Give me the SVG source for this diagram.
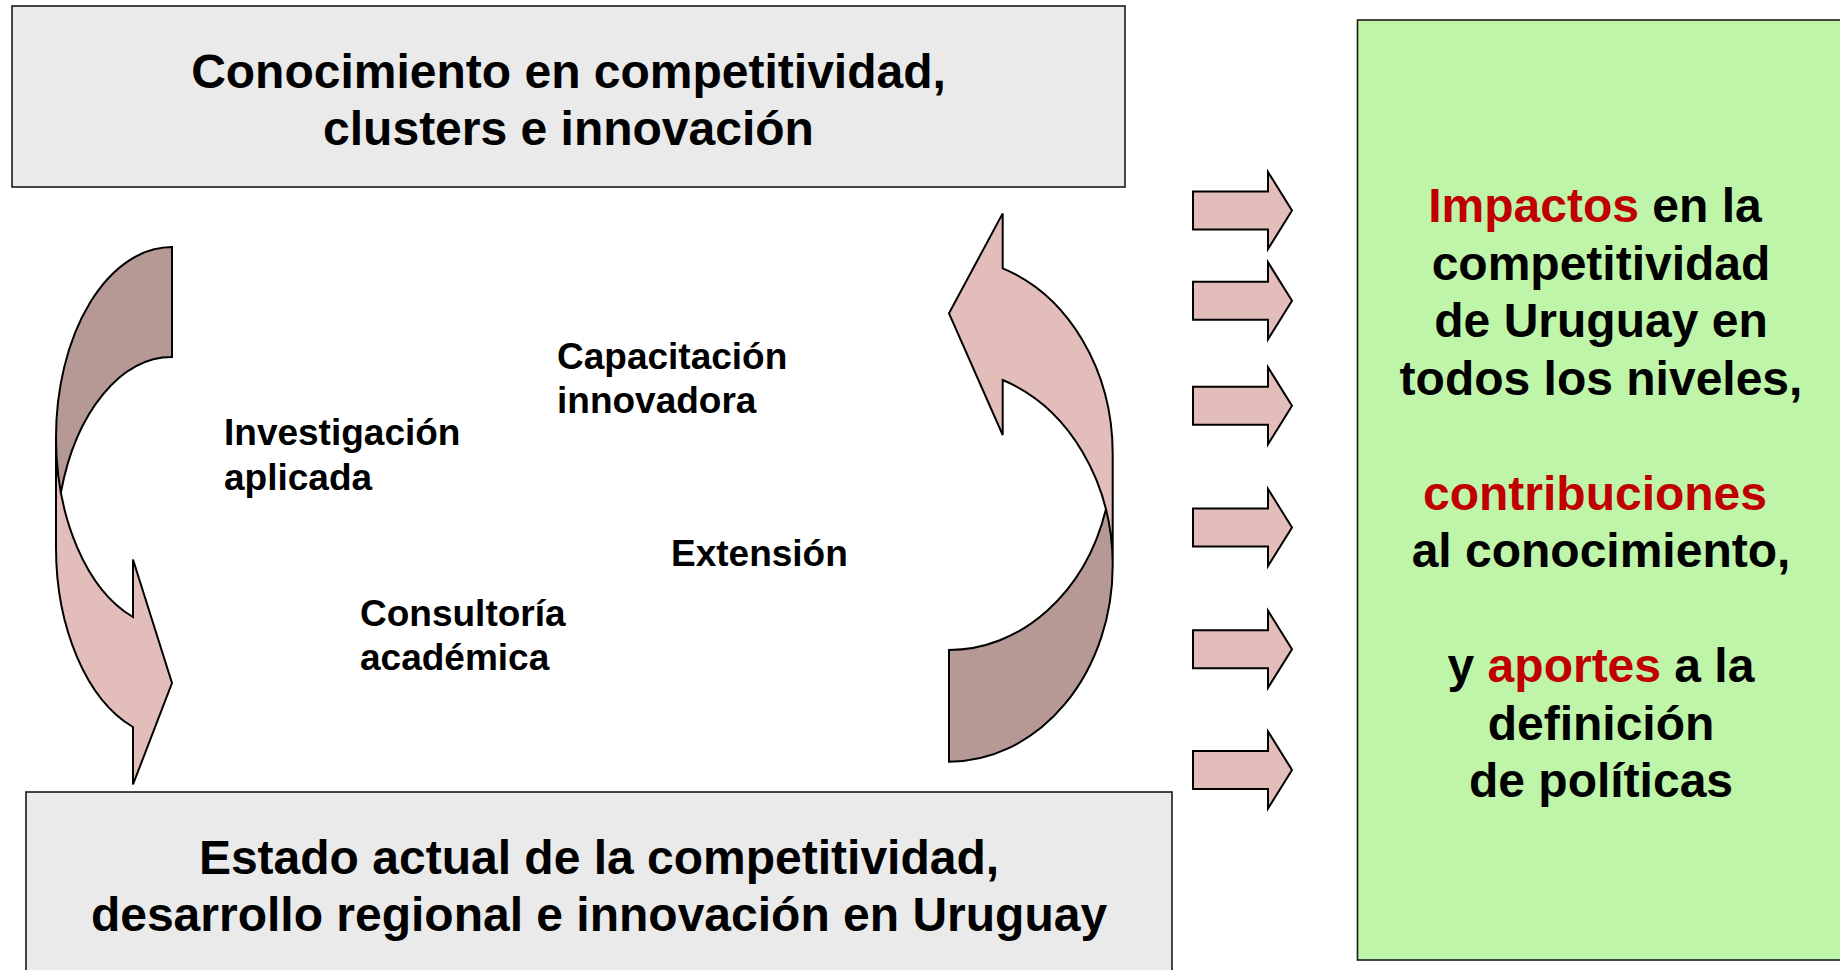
<svg xmlns="http://www.w3.org/2000/svg" width="1840" height="970" viewBox="0 0 1840 970">
  <defs>
    <style>
      .box { stroke: #1a1a1a; stroke-width: 1.6; }
      .gray { fill: #EAEAEA; }
      .green { fill: #BFF5A9; }
      .title { font-family: "Liberation Sans", Arial, sans-serif; font-weight: bold; font-size: 48px; fill: #000; text-anchor: middle; }
      .label { font-family: "Liberation Sans", Arial, sans-serif; font-weight: bold; font-size: 37px; fill: #000; }
      .red { fill: #C00000; }
      .light { fill: #E3BDB9; stroke: none; }
      .dark { fill: #B69995; stroke: none; }
      .outline { fill: none; stroke: #000; stroke-width: 2; stroke-linejoin: miter; }
      .sarrow { fill: #E3BDB9; stroke: #000; stroke-width: 2; }
    </style>
    <path id="sa" d="M1193,-19 H1268 V-38.5 L1292,0 L1268,38.5 V19 H1193 Z"/>
  </defs>

  <rect width="1840" height="970" fill="#FFFFFF"/>

  <g id="node-conocimiento">
    <rect class="box gray" x="12" y="6" width="1113" height="181"/>
    <text class="title" x="568.5" y="88">Conocimiento en competitividad,</text>
    <text class="title" x="568.5" y="145">clusters e innovación</text>
  </g>

  <g id="node-estado">
    <rect class="box gray" x="26" y="792" width="1146" height="190"/>
    <text class="title" x="599" y="874">Estado actual de la competitividad,</text>
    <text class="title" x="599" y="931">desarrollo regional e innovación en Uruguay</text>
  </g>

  <g id="node-impactos">
    <rect class="box green" x="1357.5" y="20" width="490" height="940"/>
    <text class="title" x="1595" y="222"><tspan class="red">Impactos</tspan> en la</text>
    <text class="title" x="1601" y="279.5">competitividad</text>
    <text class="title" x="1601" y="337">de Uruguay en</text>
    <text class="title" x="1601" y="394.5">todos los niveles,</text>
    <text class="title red" x="1595" y="509.5">contribuciones</text>
    <text class="title" x="1601" y="567">al conocimiento,</text>
    <text class="title" x="1601" y="682"><tspan>y </tspan><tspan class="red">aportes</tspan><tspan> a la</tspan></text>
    <text class="title" x="1601" y="739.5">definición</text>
    <text class="title" x="1601" y="797">de políticas</text>
  </g>

  <g id="node-investigacion">
    <text class="label" x="224" y="445">Investigación</text>
    <text class="label" x="224" y="489.5">aplicada</text>
  </g>
  <g id="node-capacitacion">
    <text class="label" x="557" y="368.5">Capacitación</text>
    <text class="label" x="557" y="413">innovadora</text>
  </g>
  <g id="node-extension">
    <text class="label" x="671" y="565.5">Extensión</text>
  </g>
  <g id="node-consultoria">
    <text class="label" x="360" y="625.5">Consultoría</text>
    <text class="label" x="360" y="670">académica</text>
  </g>

  <g id="connectors">
    <g id="curved-left">
      <path class="light" d="M56,437.5 A116,190.5 0 0 0 133,617 L133,559.5 L172,683 L133,784.5 L133,727 A116,190.5 0 0 1 56,547.5 Z"/>
      <path class="dark" d="M172,357 A116,190.5 0 0 0 60.9,492.5 A116,190.5 0 0 1 172,247 Z"/>
      <path class="outline" d="M56,437.5 A116,190.5 0 0 0 133,617 L133,559.5 L172,683 L133,784.5 L133,727 A116,190.5 0 0 1 56,547.5 L56,437.5 A116,190.5 0 0 1 172,247 L172,357 A116,190.5 0 0 0 60.9,492.5"/>
    </g>
    <g id="curved-right">
      <path class="light" d="M1112.7,565.4 A163.7,196.3 0 0 0 1002.7,380 L1002.7,435 L949,313.3 L1002.7,213.4 L1002.7,268.3 A163.7,196.3 0 0 1 1112.7,453.7 Z"/>
      <path class="dark" d="M949,650 A163.7,196.3 0 0 0 1105.9,509.5 A163.7,196.3 0 0 1 949,761.7 Z"/>
      <path class="outline" d="M1112.7,565.4 A163.7,196.3 0 0 0 1002.7,380 L1002.7,435 L949,313.3 L1002.7,213.4 L1002.7,268.3 A163.7,196.3 0 0 1 1112.7,453.7 L1112.7,565.4 A163.7,196.3 0 0 1 949,761.7 L949,650 A163.7,196.3 0 0 0 1105.9,509.5"/>
    </g>
    <g id="impact-arrows">
      <use href="#sa" class="sarrow" y="210.5"/>
      <use href="#sa" class="sarrow" y="300.8"/>
      <use href="#sa" class="sarrow" y="405.8"/>
      <use href="#sa" class="sarrow" y="527.5"/>
      <use href="#sa" class="sarrow" y="649.2"/>
      <use href="#sa" class="sarrow" y="770"/>
    </g>
  </g>
</svg>
